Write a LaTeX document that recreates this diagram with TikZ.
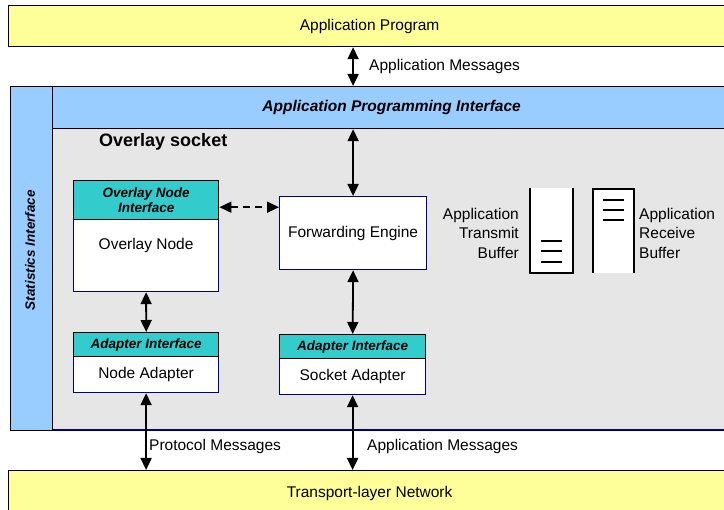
\documentclass[tikz,border=0pt]{standalone}
\usepackage{fontspec}
\setmainfont{Liberation Sans}
\usetikzlibrary{arrows.meta}
\definecolor{appyellow}{HTML}{FFFF99}
\definecolor{apiblue}{HTML}{99CCFF}
\definecolor{sockgray}{HTML}{E6E6E6}
\definecolor{ifteal}{HTML}{33CCCC}
\definecolor{boxnavy}{HTML}{000080}
\begin{document}
\begin{tikzpicture}[x=1pt, y=-1pt,
    every node/.style={font=\fontsize{15.5}{19.5}\selectfont, inner sep=0pt},
    layer/.style={draw=black, line width=1.2pt, anchor=north west},
    ifhead/.style={draw=black, fill=ifteal, line width=1.4pt, anchor=north west,
      align=center, font=\fontsize{13.5}{15.5}\selectfont\bfseries\itshape},
    unitbox/.style={draw=boxnavy, fill=white, line width=1.2pt, anchor=north west},
    msg/.style={{Triangle[length=12pt,width=11pt]}-{Triangle[length=12pt,width=11pt]}, line width=1.8pt},
    bufline/.style={line width=1.5pt}]
        \clip (0,0) rectangle (724,510);
        % Outer layers
        \node[layer, fill=appyellow, minimum width=722pt, minimum height=41pt] (app) at (8,5) {Application Program};
        \node[layer, fill=appyellow, minimum width=722pt, minimum height=45pt] (net) at (8,470) {Transport-layer Network};
        % Overlay socket area
        \fill[sockgray] (52,128) rectangle (730,430);
        \draw[boxnavy, line width=1.5pt] (52,430) -- (730,430);
        \node[layer, fill=apiblue, minimum width=42pt, minimum height=344pt] (stats) at (10,86) {};
        \node[rotate=90, font=\fontsize{13.5}{16}\selectfont\bfseries\itshape] (statstext) at (30,250) {Statistics Interface};
        \node[layer, fill=apiblue, minimum width=678pt, minimum height=42pt,
          font=\fontsize{15.5}{19}\selectfont\bfseries\itshape] (api) at (52,86) {Application Programming Interface};
        \node[anchor=west, font=\fontsize{18}{22}\selectfont\bfseries] (socket) at (99,142) {Overlay socket};
        % Overlay node
        \node[unitbox, minimum width=145pt, minimum height=72pt,
          label={[anchor=center, yshift=-26pt]north:Overlay Node}] (ovbody) at (73,219) {};
        \node[ifhead, minimum width=145pt, minimum height=39pt] (onihead) at (73,180) {Overlay Node\\Interface};
        % Forwarding engine
        \node[unitbox, minimum width=147pt, minimum height=73pt] (fwd) at (279,196) {Forwarding Engine};
        % Adapters
        \node[unitbox, minimum width=145pt, minimum height=36pt] (nabody) at (73,356) {Node Adapter};
        \node[ifhead, minimum width=145pt, minimum height=24pt] (nahead) at (73,332) {Adapter Interface};
        \node[unitbox, minimum width=146pt, minimum height=36pt] (sabody) at (279,358) {Socket Adapter};
        \node[ifhead, minimum width=146pt, minimum height=24pt] (sahead) at (279,334) {Adapter Interface};
        % Buffers
        \draw[bufline, fill=white] (530,188) -- (530,273) -- (573,273) -- (573,188);
        \foreach \y in {241,251,262} \draw[bufline] (541,\y) -- (562,\y);
        \draw[bufline, fill=white] (593,273) -- (593,189) -- (634,189) -- (634,273);
        \foreach \y in {200,210,220} \draw[bufline] (603,\y) -- (624,\y);
        \node[anchor=east, align=right] (txbuf) at (519,233) {Application\\Transmit\\Buffer};
        \node[anchor=west, align=left] (rxbuf) at (639,233) {Application\\Receive\\Buffer};
        % Messages
        \draw[msg] (fwd |- app.south) -- (fwd |- api.north);
        \draw[msg] (api.south -| fwd) -- (fwd.north);
        \draw[msg, line width=1.5pt, dash pattern=on 7pt off 5pt] ([yshift=-7pt]onihead.east) -- ([yshift=-7pt]onihead.east -| fwd.west);
        \draw[msg] (ovbody.south) -- (nahead.north);
        \draw[msg] (fwd.south) -- (sahead.north);
        \draw[msg] (nabody.south) -- (nabody.south |- net.north);
        \draw[msg] (sabody.south) -- (sabody.south |- net.north);
        % Labels
        \node[anchor=west] (appmsgtop) at (369,66) {Application Messages};
        \node[anchor=west] (protomsg) at (149,446) {Protocol Messages};
        \node[anchor=west] (appmsgbot) at (367,446) {Application Messages};
      \end{tikzpicture}
\end{document}
